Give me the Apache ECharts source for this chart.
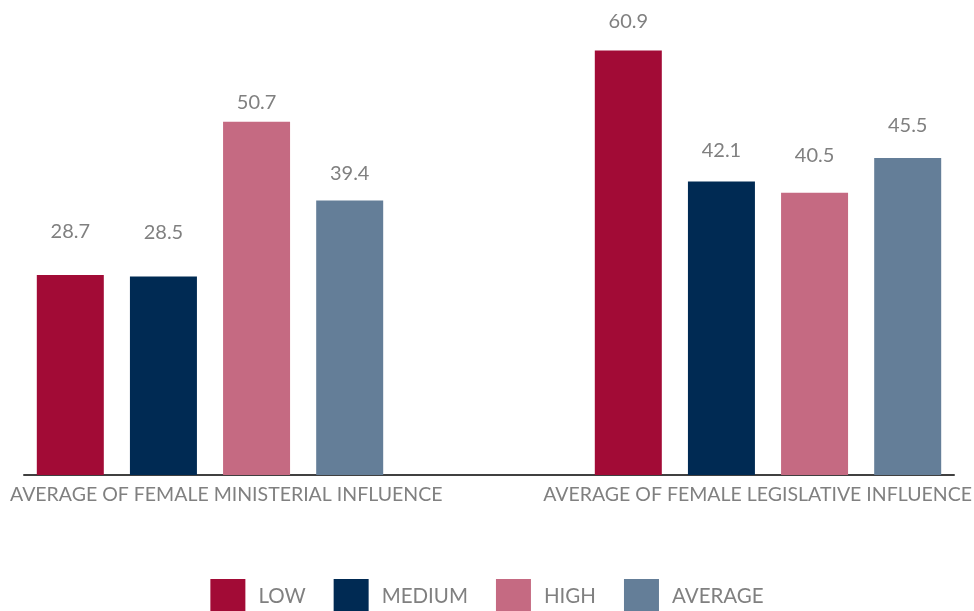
<!DOCTYPE html>
<html>
<head>
<meta charset="utf-8">
<style>
  html, body { margin: 0; padding: 0; background: #ffffff; }
  #chart { width: 974px; height: 611px; }
</style>
<script src="https://cdn.jsdelivr.net/npm/echarts@6/dist/echarts.min.js"></script>
</head>
<body>
<div id="chart"></div>
<script>
// Categories and series values
const categories = ['AVERAGE OF FEMALE MINISTERIAL INFLUENCE', 'AVERAGE OF FEMALE LEGISLATIVE INFLUENCE'];
const seriesNames = ['LOW', 'MEDIUM', 'HIGH', 'AVERAGE'];
const lowValues = [28.7, 60.9];
const mediumValues = [28.5, 42.1];
const highValues = [50.7, 40.5];
const averageValues = [39.4, 45.5];

// Styling
const colors = ['#A20B36', '#002A53', '#C56A82', '#647E98'];
// extra space (px) between each bar top and its value label, per series / category
const labelGap = [[33, 19], [34, 21], [9, 27], [17, 22]];

const FONT = 'Lato, "Open Sans", sans-serif';
const GREY = '#808080';

const valuesBySeries = [lowValues, mediumValues, highValues, averageValues];

const series = seriesNames.map((name, i) => ({
  name: name,
  type: 'bar',
  xAxisIndex: 0,
  yAxisIndex: 0,
  barWidth: 67,
  barGap: '39%',
  itemStyle: { color: colors[i] },
  data: valuesBySeries[i].map((v, j) => ({
    value: v,
    label: { distance: labelGap[i][j] }
  })),
  label: {
    show: true,
    position: 'top',
    color: GREY,
    fontFamily: FONT,
    fontSize: 20,
    fontWeight: 400,
    formatter: p => p.value.toFixed(1)
  }
}));

const yCommon = { type: 'value', min: 0, max: 65, show: false };
const gridCommon = { top: 22, bottom: 136, outerBoundsMode: 'none', containLabel: false };

const option = {
  backgroundColor: '#ffffff',
  animation: false,
  color: colors,
  legend: {
    data: seriesNames,
    left: 'center',
    top: 579,
    padding: 0,
    itemWidth: 35,
    itemHeight: 35,
    itemGap: 28,
    icon: 'rect',
    textStyle: {
      color: GREY,
      fontFamily: FONT,
      fontSize: 20.5,
      fontWeight: 400,
      padding: [0, 0, 0, 8]
    }
  },
  grid: [
    // bars
    Object.assign({ left: -69, width: 1116 }, gridCommon),
    // baseline
    Object.assign({ left: 24, width: 930 }, gridCommon),
    // category names
    Object.assign({ left: 10, width: 962 }, gridCommon)
  ],
  xAxis: [
    {
      gridIndex: 0, type: 'category', data: categories,
      axisLine: { show: false }, axisTick: { show: false }, axisLabel: { show: false }
    },
    {
      gridIndex: 1, type: 'category', data: categories,
      axisLine: { show: true, lineStyle: { color: '#404040', width: 2 } },
      axisTick: { show: false }, axisLabel: { show: false }
    },
    {
      gridIndex: 2, type: 'category', boundaryGap: false,
      data: categories.map((c, i) => ({
        value: c,
        textStyle: { align: i === 0 ? 'left' : 'right' }
      })),
      axisLine: { show: false }, axisTick: { show: false },
      axisLabel: {
        show: true,
        interval: 0,
        margin: 10,
        color: GREY,
        fontFamily: FONT,
        fontSize: 19.5,
        fontWeight: 400
      }
    }
  ],
  yAxis: [
    Object.assign({ gridIndex: 0 }, yCommon),
    Object.assign({ gridIndex: 1 }, yCommon),
    Object.assign({ gridIndex: 2 }, yCommon)
  ],
  series: series
};

const chart = echarts.init(document.getElementById('chart'), null, { renderer: 'canvas' });
chart.setOption(option);
</script>
</body>
</html>
